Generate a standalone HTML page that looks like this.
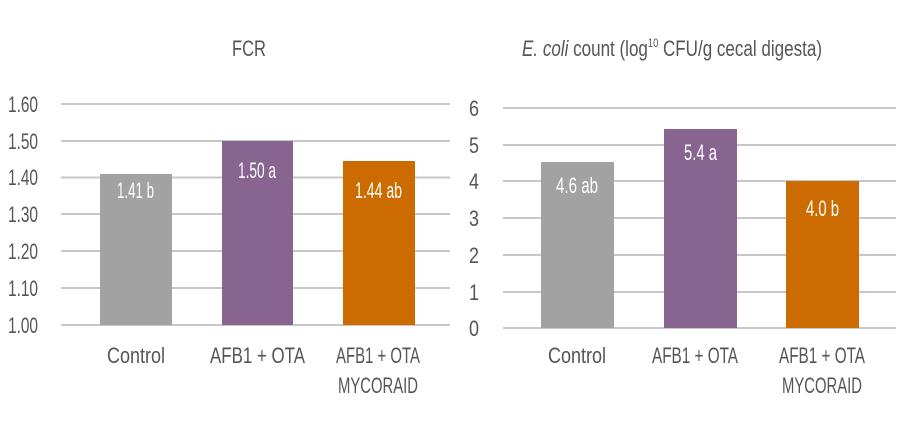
<!DOCTYPE html>
<html><head><style>body{margin:0;background:#fff}svg{display:block}text{font-family:"Liberation Sans Narrow","Liberation Sans",sans-serif;fill:#555;font-size:22px}</style></head><body>
<svg width="900" height="422" viewBox="0 0 900 422">
<g stroke="#c8c8c8" stroke-width="2">
<line x1="61" x2="450" y1="104" y2="104"/><line x1="61" x2="450" y1="141" y2="141"/><line x1="61" x2="450" y1="177.5" y2="177.5"/><line x1="61" x2="450" y1="214" y2="214"/><line x1="61" x2="450" y1="251" y2="251"/><line x1="61" x2="450" y1="288" y2="288"/><line x1="61" x2="450" y1="325" y2="325"/>
<line x1="503" x2="896" y1="108" y2="108"/><line x1="503" x2="896" y1="145" y2="145"/><line x1="503" x2="896" y1="181" y2="181"/><line x1="503" x2="896" y1="218" y2="218"/><line x1="503" x2="896" y1="255" y2="255"/><line x1="503" x2="896" y1="292" y2="292"/><line x1="503" x2="896" y1="328" y2="328"/>
</g>
<rect x="100" y="174" width="72" height="151" fill="#a3a2a3"/>
<rect x="222" y="141" width="71" height="184" fill="#886590"/>
<rect x="343" y="161" width="72" height="164" fill="#cc6c00"/>
<rect x="541" y="162" width="73" height="166" fill="#a3a2a3"/>
<rect x="664" y="129" width="73" height="199" fill="#886590"/>
<rect x="786" y="181" width="73" height="147" fill="#cc6c00"/>
<g>
<text x="8" y="112" textLength="30" lengthAdjust="spacingAndGlyphs">1.60</text>
<text x="8" y="149" textLength="30" lengthAdjust="spacingAndGlyphs">1.50</text>
<text x="8" y="185" textLength="30" lengthAdjust="spacingAndGlyphs">1.40</text>
<text x="8" y="222" textLength="30" lengthAdjust="spacingAndGlyphs">1.30</text>
<text x="8" y="259" textLength="30" lengthAdjust="spacingAndGlyphs">1.20</text>
<text x="8" y="296" textLength="30" lengthAdjust="spacingAndGlyphs">1.10</text>
<text x="8" y="333" textLength="30" lengthAdjust="spacingAndGlyphs">1.00</text>
</g>
<g>
<text x="469" y="116" textLength="10" lengthAdjust="spacingAndGlyphs">6</text><text x="469" y="153" textLength="10" lengthAdjust="spacingAndGlyphs">5</text><text x="469" y="189" textLength="10" lengthAdjust="spacingAndGlyphs">4</text><text x="469" y="226" textLength="10" lengthAdjust="spacingAndGlyphs">3</text><text x="469" y="263" textLength="10" lengthAdjust="spacingAndGlyphs">2</text><text x="469" y="300" textLength="10" lengthAdjust="spacingAndGlyphs">1</text><text x="469" y="336" textLength="10" lengthAdjust="spacingAndGlyphs">0</text>
</g>
<text x="232" y="56" textLength="34" lengthAdjust="spacingAndGlyphs">FCR</text>
<text x="522" y="56" textLength="300" lengthAdjust="spacingAndGlyphs"><tspan font-style="italic">E. coli</tspan> count (log<tspan font-size="12" dy="-9">10</tspan><tspan dy="9"> CFU/g cecal digesta)</tspan></text>
<g>
<text x="117" y="198" textLength="37" lengthAdjust="spacingAndGlyphs" style="fill:#fff">1.41 b</text>
<text x="238" y="178" textLength="38" lengthAdjust="spacingAndGlyphs" style="fill:#fff">1.50 a</text>
<text x="355" y="198" textLength="47" lengthAdjust="spacingAndGlyphs" style="fill:#fff">1.44 ab</text>
<text x="556" y="193" textLength="42" lengthAdjust="spacingAndGlyphs" style="fill:#fff">4.6 ab</text>
<text x="684" y="160" textLength="33" lengthAdjust="spacingAndGlyphs" style="fill:#fff">5.4 a</text>
<text x="806" y="216" textLength="33" lengthAdjust="spacingAndGlyphs" style="fill:#fff">4.0 b</text>
</g>
<text x="107" y="363" textLength="58" lengthAdjust="spacingAndGlyphs">Control</text>
<text x="210" y="363" textLength="95" lengthAdjust="spacingAndGlyphs">AFB1 + OTA</text>
<text x="336" y="363" textLength="84" lengthAdjust="spacingAndGlyphs">AFB1 + OTA</text>
<text x="338" y="393" textLength="80" lengthAdjust="spacingAndGlyphs">MYCORAID</text>
<text x="548" y="363" textLength="58" lengthAdjust="spacingAndGlyphs">Control</text>
<text x="652" y="363" textLength="86" lengthAdjust="spacingAndGlyphs">AFB1 + OTA</text>
<text x="779" y="363" textLength="86" lengthAdjust="spacingAndGlyphs">AFB1 + OTA</text>
<text x="782" y="393" textLength="80" lengthAdjust="spacingAndGlyphs">MYCORAID</text>
</svg>
</body></html>
